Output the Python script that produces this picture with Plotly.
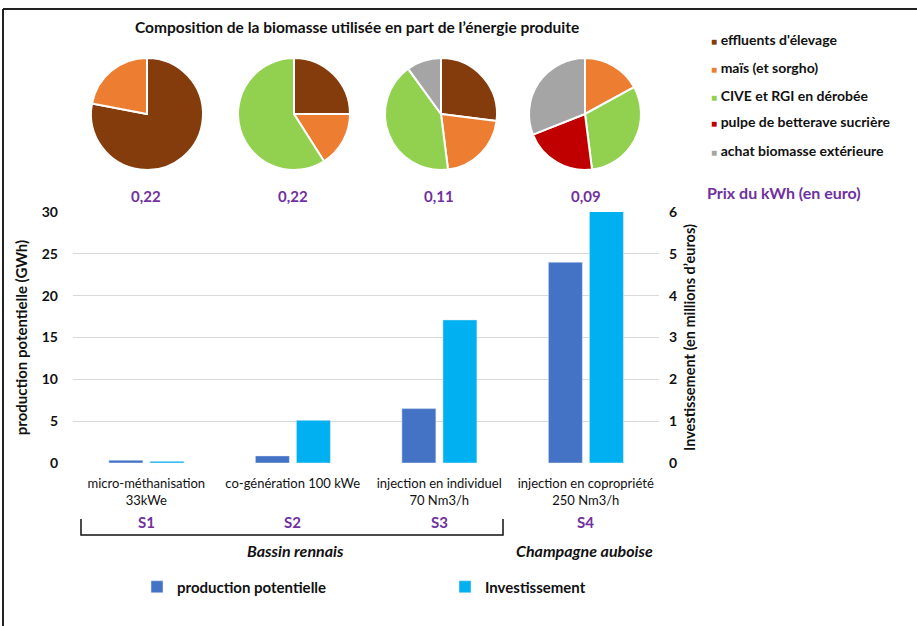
import plotly.graph_objects as go

W, H = 917, 626
def px(x): return x / W
def py(y): return 1 - y / H

# ---------------- data ----------------
categories = ["micro-méthanisation<br>33kWe", "co-génération 100 kWe",
              "injection en individuel<br>70 Nm3/h", "injection en copropriété<br>250 Nm3/h"]
scenarios = ["S1", "S2", "S3", "S4"]
production_gwh = [0.33, 0.85, 6.5, 24.0]
investissement_meur = [0.04, 1.02, 3.42, 6.06]
prix_kwh = ["0,22", "0,22", "0,11", "0,09"]

biomass_labels = ["effluents d'élevage", "maïs (et sorgho)", "CIVE et RGI en dérobée",
                  "pulpe de betterave sucrière", "achat biomasse extérieure"]
biomass_colors = ["#843C0C", "#ED7D31", "#92D050", "#C00000", "#A5A5A5"]
pie_s1 = [0.78, 0.22, 0, 0, 0]
pie_s2 = [0.25, 0.16, 0.59, 0, 0]
pie_s3 = [0.27, 0.21, 0.42, 0, 0.10]
pie_s4 = [0, 0.17, 0.31, 0.21, 0.31]
pies = [pie_s1, pie_s2, pie_s3, pie_s4]

FONT = "Lato"
BLACK = "#111111"
PURPLE = "#7030A0"

fig = go.Figure()

# ---------------- bars ----------------
fig.add_trace(go.Bar(x=categories, y=production_gwh, name="<b>production potentielle</b>",
                     marker=dict(color="#4472C4"), width=0.232, offset=-0.255,
                     yaxis="y", showlegend=True))
fig.add_trace(go.Bar(x=categories, y=investissement_meur, name="<b>Investissement</b>",
                     marker=dict(color="#00B0F0"), width=0.232, offset=0.025,
                     yaxis="y2", showlegend=True))

# ---------------- pies ----------------
pie_centers_x = [147, 294, 441, 585]
pie_cy = 114
R = 56
for cx, vals in zip(pie_centers_x, pies):
    fig.add_trace(go.Pie(labels=biomass_labels, values=vals, sort=False,
                         direction="clockwise", rotation=0, textinfo="none",
                         marker=dict(colors=biomass_colors, line=dict(color="white", width=2)),
                         domain=dict(x=[px(cx - R), px(cx + R)], y=[py(pie_cy + R), py(pie_cy - R)]),
                         showlegend=False, hoverinfo="label+percent"))

def ann(text, x, y, size, color=BLACK, xref="paper", xanchor="center"):
    return dict(text=text, x=x, y=py(y), xref=xref, yref="paper", showarrow=False,
                xanchor=xanchor, yanchor="middle",
                font=dict(family=FONT, size=size, color=color))

annotations = []
annotations.append(ann("<b>Composition de la biomasse utilisée en part de l’énergie produite</b>",
                       px(357), 27, 15.5))
for cat, p, s in zip(categories, prix_kwh, scenarios):
    annotations.append(ann(f"<b>{p}</b>", cat, 196, 15, PURPLE, xref="x"))
    annotations.append(ann(f"<b>{s}</b>", cat, 522, 15, PURPLE, xref="x"))
annotations.append(ann("<b>Prix du kWh (en euro)</b>", px(705), 193, 16, PURPLE, xanchor="left"))
leg_y = [40, 67, 95, 122, 150]
for lab, col, yy in zip(biomass_labels, biomass_colors, leg_y):
    annotations.append(ann(f"<span style='color:{col};font-size:10px'>■</span> <b>{lab}</b>",
                           px(709), yy, 14, xanchor="left"))
annotations.append(ann("<b><i>Bassin rennais</i></b>", px(295), 550, 16))
annotations.append(ann("<b><i>Champagne auboise</i></b>", px(584), 550, 16))

shapes = [
    dict(type="line", xref="paper", yref="paper", x0=px(3), x1=1, y0=py(9), y1=py(9),
         line=dict(color="#222", width=2)),
    dict(type="line", xref="paper", yref="paper", x0=px(3), x1=px(3), y0=py(9), y1=0,
         line=dict(color="#222", width=2)),
    dict(type="path", xref="paper", yref="paper",
         path=f"M {px(81)},{py(519)} L {px(81)},{py(535)} L {px(503)},{py(535)} L {px(503)},{py(519)}",
         line=dict(color=BLACK, width=1.5)),
]

fig.update_layout(
    width=W, height=H, margin=dict(l=0, r=0, t=0, b=0),
    paper_bgcolor="white", plot_bgcolor="white",
    barmode="overlay",
    font=dict(family=FONT, color=BLACK),
    xaxis=dict(domain=[px(73), px(659)], showgrid=False, showline=False, zeroline=False,
               tickfont=dict(family=FONT, size=13, color=BLACK), ticks="", fixedrange=True,
               ticklabelstandoff=11, automargin=False),
    yaxis=dict(domain=[py(463), py(212)], range=[0, 30], dtick=5, showgrid=True,
               gridcolor="#D9D9D9", gridwidth=1, zeroline=False, showline=False,
               tickfont=dict(family=FONT, size=14, color=BLACK), tickprefix="<b>", ticksuffix="</b>",
               ticks="", ticklabelstandoff=14, automargin=False,
               title=dict(text="<b>production potentielle (GWh)</b>", standoff=10,
                          font=dict(family=FONT, size=15, color=BLACK))),
    yaxis2=dict(overlaying="y", side="right", anchor="x", range=[0, 6], dtick=1, showgrid=False,
                zeroline=False, showline=False, automargin=False,
                tickfont=dict(family=FONT, size=14, color=BLACK), tickprefix="<b>", ticksuffix="</b>",
                ticks="", ticklabelstandoff=9,
                title=dict(text="<b>Investissement (en millions d’euros)</b>", standoff=8,
                           font=dict(family=FONT, size=14.5, color=BLACK))),
    legend=dict(orientation="h", x=px(137), y=py(587), xanchor="left", yanchor="middle",
                entrywidth=263, entrywidthmode="pixels",
                font=dict(family=FONT, size=15, color=BLACK), bgcolor="rgba(0,0,0,0)"),
    annotations=annotations, shapes=shapes,
)

fig.write_html("out.html")
